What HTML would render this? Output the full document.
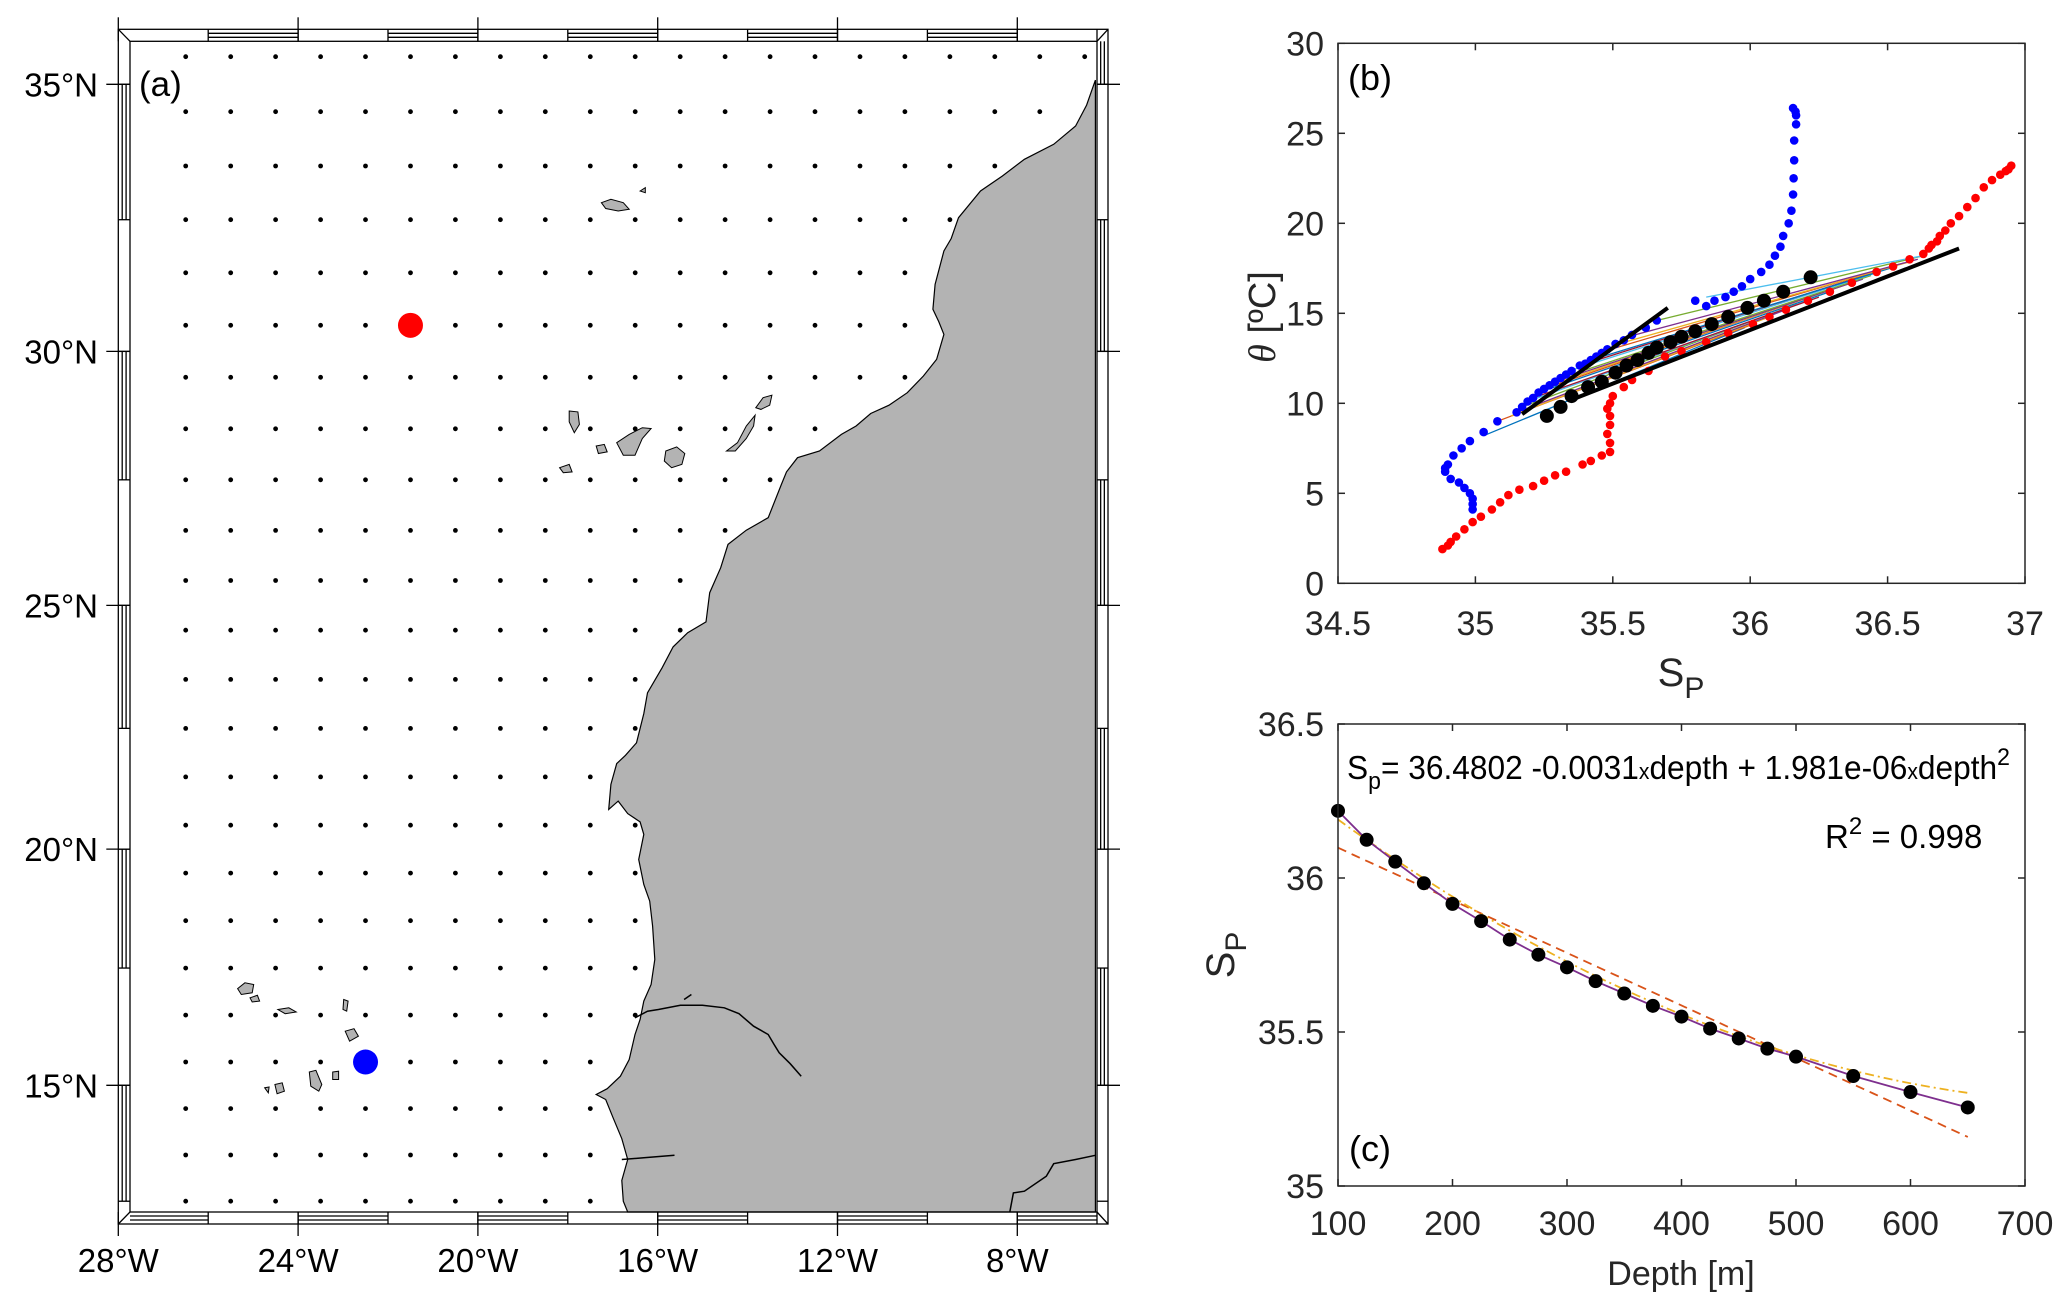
<!DOCTYPE html>
<html><head><meta charset="utf-8"><style>
html,body{margin:0;padding:0;background:#fff;}
svg{display:block;font-family:"Liberation Sans",Arial,sans-serif;}
</style></head><body>
<svg id="fig" xmlns="http://www.w3.org/2000/svg" width="2067" height="1308" viewBox="0 0 2067 1308">
<rect x="0" y="0" width="2067" height="1308" fill="#fff"/>
<g id="mapA"></g>
<g id="panelB"></g>
<g id="panelC"></g>
</svg>
<script>
// ---------- Panel (a) data ----------
const gridLons = [-26.5,-25.5,-24.5,-23.5,-22.5,-21.5,-20.5,-19.5,-18.5,-17.5,-16.5,-15.5,-14.5,-13.5,-12.5,-11.5,-10.5,-9.5,-8.5,-7.5,-6.5];
const gridLats = [35.5,34.5,33.5,32.5,31.5,30.5,29.5,28.5,27.5,26.5,25.5,24.5,23.5,22.5,21.5,20.5,19.5,18.5,17.5,16.5,15.5,14.5,13.5,12.5];
const stationLons = [-21.5,-22.5];
const stationLats = [30.5,15.5];
const stationColors = ['#ff0000','#0000ff'];
const lonTicks = [-28,-24,-20,-16,-12,-8];
const lonTickLabels = ['28°W','24°W','20°W','16°W','12°W','8°W'];
const latTicks = [35,30,25,20,15];
const latTickLabels = ['35°N','30°N','25°N','20°N','15°N'];

// ---------- Panel (b) data ----------
const blueS = [36.156,36.165,36.167,36.167,36.16,36.16,36.158,36.156,36.15,36.14,36.12,36.11,36.09,36.07,36.04,36.0,35.97,35.94,35.91,35.87,35.84,35.80,35.66,35.62,35.57,35.54,35.51,35.48,35.46,35.44,35.42,35.40,35.38,35.35,35.33,35.31,35.29,35.27,35.25,35.23,35.21,35.19,35.17,35.15,35.08,35.03,34.98,34.95,34.92,34.90,34.89,34.89,34.91,34.94,34.96,34.98,34.99,34.99,34.99];
const blueT = [26.4,26.2,26.0,25.5,24.6,23.5,22.5,21.6,20.7,20.0,19.3,18.7,18.2,17.7,17.3,16.9,16.5,16.2,15.9,15.7,15.4,15.7,14.6,14.2,13.8,13.5,13.3,13.0,12.8,12.6,12.4,12.2,12.1,11.8,11.6,11.4,11.2,11.0,10.8,10.6,10.3,10.1,9.8,9.5,9.0,8.4,7.9,7.5,7.1,6.6,6.4,6.2,5.8,5.6,5.3,5.0,4.7,4.4,4.1];
const redS = [36.95,36.94,36.93,36.91,36.88,36.85,36.82,36.79,36.76,36.73,36.71,36.69,36.68,36.66,36.65,36.63,36.58,36.52,36.46,36.37,36.29,36.21,36.13,36.07,36.01,35.92,35.84,35.75,35.69,35.63,35.57,35.54,35.50,35.49,35.48,35.49,35.49,35.48,35.49,35.49,35.46,35.42,35.39,35.33,35.29,35.25,35.21,35.16,35.12,35.09,35.06,35.02,34.99,34.96,34.93,34.91,34.90,34.88];
const redT = [23.2,23.0,22.9,22.7,22.4,22.0,21.4,20.9,20.4,20.0,19.6,19.3,19.0,18.8,18.6,18.3,18.0,17.6,17.3,16.7,16.2,15.7,15.2,14.8,14.4,13.9,13.4,12.9,12.6,11.8,11.3,10.9,10.4,10.0,9.7,9.3,8.8,8.3,7.8,7.3,7.1,6.8,6.6,6.2,6.0,5.7,5.4,5.2,4.9,4.5,4.1,3.7,3.4,3.0,2.6,2.3,2.1,1.9];
const meanS = [35.26,35.31,35.35,35.41,35.46,35.51,35.55,35.59,35.63,35.66,35.71,35.75,35.80,35.86,35.92,35.99,36.05,36.12,36.22];
const meanT = [9.3,9.8,10.4,10.9,11.2,11.7,12.1,12.4,12.8,13.1,13.4,13.7,14.0,14.4,14.8,15.3,15.7,16.2,17.0];
const mixBlueS = [35.03,35.08,35.13,35.15,35.17,35.19,35.21,35.23,35.25,35.27,35.29,35.31,35.34,35.38,35.42,35.47,35.52,35.58,35.66,35.84];
const mixBlueT = [8.2,9.0,9.3,9.5,9.8,10.1,10.3,10.6,10.8,11.0,11.2,11.4,11.8,12.1,12.4,12.9,13.3,13.8,14.6,15.9];
const mixRedS = [35.98,36.01,36.07,36.13,36.17,36.21,36.25,36.29,36.33,36.37,36.41,36.44,36.47,36.50,36.53,36.56,36.59,36.61,36.63,36.63];
const mixRedT = [14.2,14.4,14.8,15.2,15.5,15.7,15.9,16.2,16.5,16.7,16.9,17.1,17.3,17.5,17.6,17.8,17.9,18.0,18.2,18.2];
const fitLine1S = [35.17,35.70];
const fitLine1T = [9.4,15.3];
const fitLine2S = [35.35,36.76];
const fitLine2T = [10.2,18.6];
const bXTicks = [34.5,35,35.5,36,36.5,37];
const bXTickLabels = ['34.5','35','35.5','36','36.5','37'];
const bYTicks = [0,5,10,15,20,25,30];
const bYTickLabels = ['0','5','10','15','20','25','30'];

// ---------- Panel (c) data ----------
const depths = [100,125,150,175,200,225,250,275,300,325,350,375,400,425,450,475,500,550,600,650];
const salinity = [36.218,36.124,36.053,35.983,35.916,35.86,35.80,35.751,35.71,35.665,35.625,35.585,35.55,35.511,35.479,35.446,35.42,35.357,35.305,35.255];
const quadCoef = [36.4802,-0.0031,1.981e-6];
const linCoef = [36.269,-0.001707];
const cXTicks = [100,200,300,400,500,600,700];
const cXTickLabels = ['100','200','300','400','500','600','700'];
const cYTicks = [35,35.5,36,36.5];
const cYTickLabels = ['35','35.5','36','36.5'];

const NS='http://www.w3.org/2000/svg';
function mk(parent, tag, attrs, text){
  const e=document.createElementNS(NS,tag);
  for(const k in attrs) e.setAttribute(k,attrs[k]);
  if(text!==undefined) e.textContent=text;
  parent.appendChild(e); return e;
}

// ===== Panel A =====
const A=document.getElementById('mapA');
const OX0=118.3,OX1=1108,OY0=29.3,OY1=1224,IX0=130,IX1=1097,IY0=41.3,IY1=1212;
function merc(lat){return Math.log(Math.tan(Math.PI/4+lat*Math.PI/360));}
function mx(lon){return OX0+(lon+28)*44.95;}
function my(lat){return 84.3+(merc(35)-merc(lat))*2580;}
function ref(zx,zy){return [118.3+(zx-162)*0.7319, 84.3+(zy-100)*0.8335];}
function refPts(arr){return arr.map(p=>ref(p[0],p[1]));}
function ptsStr(arr){return arr.map(p=>p[0].toFixed(1)+','+p[1].toFixed(1)).join(' ');}

const coastRef=[[1497,95],[1485,125],[1470,150],[1440,172],[1400,190],[1370,210],[1340,228],[1310,260],[1300,285],[1290,300],[1278,340],[1275,370],[1283,385],[1290,400],[1280,430],[1262,450],[1240,470],[1215,485],[1190,495],[1170,510],[1150,520],[1120,540],[1090,548],[1075,565],[1068,580],[1050,620],[1020,635],[995,652],[985,680],[970,710],[965,745],[940,758],[920,775],[905,800],[895,815],[885,830],[880,855],[870,890],[855,905],[843,915],[835,940],[832,970],[845,960],[858,975],[875,985],[880,1000],[873,1030],[880,1060],[888,1080],[892,1110],[895,1150],[890,1180],[880,1200],[875,1222],[868,1240],[860,1270],[848,1290],[830,1305],[815,1312],[828,1318],[838,1340],[850,1365],[858,1390],[850,1415],[852,1440],[858,1453],[1497,1453]];
const coast=refPts(coastRef);
const land=mk(A,'polygon',{points:ptsStr(coast),fill:'#b3b3b3',stroke:'#000','stroke-width':1.2});



const islandsRef=[
 ['madeira',[[822,242],[835,238],[852,242],[860,250],[845,252],[828,249]]],
 ['porto-santo',[[875,228],[882,224],[882,230]]],
 ['la-palma',[[778,492],[790,493],[792,508],[785,518],[778,505]]],
 ['el-hierro',[[765,560],[778,556],[782,565],[770,566]]],
 ['la-gomera',[[815,534],[826,532],[830,541],[818,543]]],
 ['tenerife',[[843,530],[860,520],[878,512],[890,513],[878,525],[868,545],[852,545]]],
 ['gran-canaria',[[910,540],[925,535],[936,543],[932,556],[918,560],[908,552]]],
 ['fuerteventura',[[993,540],[1008,530],[1020,510],[1032,497],[1030,510],[1020,525],[1005,540]]],
 ['lanzarote',[[1033,488],[1043,476],[1055,473],[1052,485],[1040,490]]],
 ['santo-antao',[[325,1185],[335,1178],[347,1180],[345,1190],[330,1192]]],
 ['sao-vicente',[[342,1196],[352,1193],[355,1200],[345,1201]]],
 ['sao-nicolau',[[380,1210],[395,1208],[405,1213],[390,1215]]],
 ['sal',[[470,1198],[476,1200],[474,1212],[469,1210]]],
 ['boa-vista',[[472,1236],[484,1233],[490,1242],[478,1248]]],
 ['maio',[[455,1285],[463,1284],[463,1294],[455,1294]]],
 ['santiago',[[423,1285],[432,1283],[440,1300],[436,1308],[425,1302]]],
 ['fogo',[[376,1300],[386,1298],[389,1308],[379,1311]]],
 ['brava',[[362,1304],[368,1303],[367,1310]]]
];
islandsRef.forEach(it=>{
  const p=mk(A,'polygon',{points:ptsStr(refPts(it[1])),fill:'#b3b3b3',stroke:'#000','stroke-width':1});
  
  
});
const riversRef=[
 [[868,1220],[885,1212],[900,1210],[930,1205],[960,1205],[990,1208],[1010,1215],[1030,1230],[1050,1240],[1058,1252],[1065,1262],[1080,1275],[1095,1290]],
 [[850,1390],[880,1388],[922,1385]],
 [[1380,1453],[1385,1430],[1400,1428],[1430,1410],[1440,1395],[1470,1390],[1497,1385]],
 [[935,1198],[945,1192]]
];
riversRef.forEach((r,i)=>{
  const l=mk(A,'polyline',{points:ptsStr(refPts(r)),fill:'none',stroke:'#000','stroke-width':1.5});
  
  
});

function inPoly(x,y,poly){
  let c=false;
  for(let i=0,j=poly.length-1;i<poly.length;j=i++){
    const xi=poly[i][0],yi=poly[i][1],xj=poly[j][0],yj=poly[j][1];
    if(((yi>y)!==(yj>y)) && (x < (xj-xi)*(y-yi)/(yj-yi)+xi)) c=!c;
  }
  return c;
}
const dotsG=mk(A,'g',{});


gridLats.forEach(la=>{gridLons.forEach(lo=>{
  const x=mx(lo),y=my(la);
  if(inPoly(x,y,coast)) return;
  const d=mk(dotsG,'circle',{cx:x.toFixed(1),cy:y.toFixed(1),r:2.4,fill:'#000'});
  
  
});});
stationLons.forEach((lo,i)=>{
  const c=mk(A,'circle',{cx:mx(lo),cy:my(stationLats[i]),r:12.5,fill:stationColors[i]});
  
  
});

// fancy frame
const frame=mk(A,'g',{fill:'none',stroke:'#000','stroke-width':1.3});


mk(frame,'rect',{x:OX0,y:OY0,width:OX1-OX0,height:OY1-OY0,fill:'none'});
mk(frame,'rect',{x:IX0,y:IY0,width:IX1-IX0,height:IY1-IY0,fill:'none'});
mk(frame,'line',{x1:OX0,y1:OY0,x2:IX0,y2:IY0});
mk(frame,'line',{x1:OX1,y1:OY0,x2:IX1,y2:IY0});
mk(frame,'line',{x1:OX0,y1:OY1,x2:IX0,y2:IY1});
mk(frame,'line',{x1:OX1,y1:OY1,x2:IX1,y2:IY1});
// lon segments every 2 deg
for(let lo=-28,k=0;lo<-6;lo+=2,k++){
  const x0=Math.max(mx(lo),IX0),x1=Math.min(mx(lo+2),IX1);
  [[OY0,IY0],[IY1,OY1]].forEach((b,s)=>{
    mk(frame,'line',{x1:x1,y1:b[0],x2:x1,y2:b[1]});
    if((k+s)%2===1){
      const a=b[0]+(b[1]-b[0])/3,c=b[0]+2*(b[1]-b[0])/3;
      mk(frame,'line',{x1:x0,y1:a,x2:x1,y2:a});
      mk(frame,'line',{x1:x0,y1:c,x2:x1,y2:c});
    }
  });
}
for(let la=12.5,k=0;la<36;la+=2.5,k++){
  const y0=Math.min(my(la-0.5),IY1),y1=Math.max(my(la+2),IY0);
  const ya=my(la);
  [[OX0,IX0],[IX1,OX1]].forEach((b,s)=>{
    mk(frame,'line',{x1:b[0],y1:ya,x2:b[1],y2:ya});
  });
}
for(let la=12.5,k=0;la<36;la+=2.5,k++){
  const y0=my(la), y1=Math.max(my(Math.min(la+2.5,36)),IY0);
  [[OX0,IX0],[IX1,OX1]].forEach((b,s)=>{
    if((k+s)%2===0){
      const a=b[0]+(b[1]-b[0])/3,c=b[0]+2*(b[1]-b[0])/3;
      mk(frame,'line',{x1:a,y1:y0,x2:a,y2:y1});
      mk(frame,'line',{x1:c,y1:y0,x2:c,y2:y1});
    }
  });
}
// ticks + labels
lonTicks.forEach((lo,i)=>{
  const x=mx(lo);
  mk(frame,'line',{x1:x,y1:OY0-12,x2:x,y2:IY0});
  mk(frame,'line',{x1:x,y1:IY1,x2:x,y2:OY1+12});
  const t=mk(A,'text',{x:x,y:1272,'font-size':33,'text-anchor':'middle',fill:'#000'},lonTickLabels[i]);
  
  
});
latTicks.forEach((la,i)=>{
  const y=my(la);
  mk(frame,'line',{x1:OX0-12,y1:y,x2:IX0,y2:y});
  mk(frame,'line',{x1:IX1,y1:y,x2:OX1+12,y2:y});
  const t=mk(A,'text',{x:98,y:y+12,'font-size':33,'text-anchor':'end',fill:'#000'},latTickLabels[i]);
  
  
});
const la=mk(A,'text',{x:139,y:96,'font-size':35,fill:'#000'},'(a)');



// ===== Panel B =====
const B=document.getElementById('panelB');
const BX0=1338,BX1=2025,BY0=43.3,BY1=583.3;
function bx(s){return BX0+(s-34.5)/2.5*(BX1-BX0);}
function by(t){return BY1-t/30*(BY1-BY0);}
const matlabColors=['#0072BD','#D95319','#EDB120','#7E2F8E','#77AC30','#4DBEEE','#A2142F'];
const mixG=mk(B,'g',{});


mixBlueS.forEach((s,i)=>{
  const l=mk(mixG,'line',{x1:bx(s),y1:by(mixBlueT[i]),x2:bx(mixRedS[i]),y2:by(mixRedT[i]),stroke:matlabColors[i%7],'stroke-width':1.3});
  
  
});
const blueG=mk(B,'g',{fill:'#0000ff'});


blueS.forEach((s,i)=>{
  const c=mk(blueG,'circle',{cx:bx(s),cy:by(blueT[i]),r:4.3});
  
  
});
const redG=mk(B,'g',{fill:'#ff0000'});


redS.forEach((s,i)=>{
  const c=mk(redG,'circle',{cx:bx(s),cy:by(redT[i]),r:4.3});
  
  
});
const f1=mk(B,'line',{x1:bx(fitLine1S[0]),y1:by(fitLine1T[0]),x2:bx(fitLine1S[1]),y2:by(fitLine1T[1]),stroke:'#000','stroke-width':4});


const f2=mk(B,'line',{x1:bx(fitLine2S[0]),y1:by(fitLine2T[0]),x2:bx(fitLine2S[1]),y2:by(fitLine2T[1]),stroke:'#000','stroke-width':4});


const meanG=mk(B,'g',{fill:'#000'});


meanS.forEach((s,i)=>{
  const c=mk(meanG,'circle',{cx:bx(s),cy:by(meanT[i]),r:7});
  
  
});
function axesBox(G,x0,x1,y0,y1,xt,xf,xl,yt,yf,yl,xlabY,name){
  const box=mk(G,'rect',{x:x0,y:y0,width:x1-x0,height:y1-y0,fill:'none',stroke:'#262626','stroke-width':1.5});
  
  
  xt.forEach((v,i)=>{
    const x=xf(v);
    mk(G,'line',{x1:x,y1:y1,x2:x,y2:y1-7,stroke:'#262626','stroke-width':1.5});
    mk(G,'line',{x1:x,y1:y0,x2:x,y2:y0+7,stroke:'#262626','stroke-width':1.5});
    const t=mk(G,'text',{x:x,y:xlabY,'font-size':34,'text-anchor':'middle',fill:'#262626'},xl[i]);
    
    
  });
  yt.forEach((v,i)=>{
    const y=yf(v);
    mk(G,'line',{x1:x0,y1:y,x2:x0+7,y2:y,stroke:'#262626','stroke-width':1.5});
    mk(G,'line',{x1:x1,y1:y,x2:x1-7,y2:y,stroke:'#262626','stroke-width':1.5});
    const t=mk(G,'text',{x:x0-14,y:y+12,'font-size':34,'text-anchor':'end',fill:'#262626'},yl[i]);
    
    
  });
}
axesBox(B,BX0,BX1,BY0,BY1,bXTicks,bx,bXTickLabels,bYTicks,by,bYTickLabels,635,'b');
const bl=mk(B,'text',{x:1348,y:90,'font-size':36,fill:'#000'},'(b)');


const bxl=mk(B,'text',{x:1681,y:686,'font-size':40,'text-anchor':'middle',fill:'#262626'});


mk(bxl,'tspan',{},'S');
mk(bxl,'tspan',{dy:12,'font-size':30},'P');
const byl=mk(B,'text',{x:0,y:0,'font-size':38,'text-anchor':'middle',fill:'#262626',transform:'translate(1275,317) rotate(-90)'});


mk(byl,'tspan',{'font-style':'italic','font-family':'Liberation Serif, serif'},'θ');
mk(byl,'tspan',{},' [ºC]');

// ===== Panel C =====
const C=document.getElementById('panelC');
const CX0=1338,CX1=2025,CY0=724,CY1=1186;
function cx(d){return CX0+(d-100)/600*(CX1-CX0);}
function cy(s){return CY1-(s-35)/1.5*(CY1-CY0);}
const dMin=depths[0],dMax=depths[depths.length-1];
let linPts=[],quadPts=[];
for(let k=0;k<=40;k++){
  const d=dMin+(dMax-dMin)*k/40;
  linPts.push([cx(d),cy(linCoef[0]+linCoef[1]*d)]);
  quadPts.push([cx(d),cy(quadCoef[0]+quadCoef[1]*d+quadCoef[2]*d*d)]);
}
const lin=mk(C,'polyline',{points:ptsStr(linPts),fill:'none',stroke:'#D95319','stroke-width':1.8,'stroke-dasharray':'9,6'});


const quad=mk(C,'polyline',{points:ptsStr(quadPts),fill:'none',stroke:'#EDB120','stroke-width':1.8,'stroke-dasharray':'9,4,2,4'});


const dataLine=mk(C,'polyline',{points:ptsStr(depths.map((d,i)=>[cx(d),cy(salinity[i])])),fill:'none',stroke:'#7E2F8E','stroke-width':1.8});


const cdots=mk(C,'g',{fill:'#000'});


depths.forEach((d,i)=>{
  const c=mk(cdots,'circle',{cx:cx(d),cy:cy(salinity[i]),r:7});
  
  
});
axesBox(C,CX0,CX1,CY0,CY1,cXTicks,cx,cXTickLabels,cYTicks,cy,cYTickLabels,1235,'c');
const eq=mk(C,'text',{x:1347,y:779,'font-size':33,fill:'#000',textLength:663,lengthAdjust:'spacingAndGlyphs'});


mk(eq,'tspan',{},'S');
mk(eq,'tspan',{dy:10,'font-size':24},'p');
mk(eq,'tspan',{dy:-10},'= 36.4802 -0.0031');
mk(eq,'tspan',{'font-size':22},'x');
mk(eq,'tspan',{},'depth + 1.981e-06');
mk(eq,'tspan',{'font-size':22},'x');
mk(eq,'tspan',{},'depth');
mk(eq,'tspan',{dy:-14,'font-size':24},'2');
const r2=mk(C,'text',{x:1825,y:848,'font-size':33,fill:'#000'});


mk(r2,'tspan',{},'R');
mk(r2,'tspan',{dy:-14,'font-size':24},'2');
mk(r2,'tspan',{dy:14},' = 0.998');
const cl=mk(C,'text',{x:1349,y:1161,'font-size':36,fill:'#000'},'(c)');


const cxl=mk(C,'text',{x:1681,y:1285,'font-size':34,'text-anchor':'middle',fill:'#262626'},'Depth [m]');


const cyl=mk(C,'text',{x:0,y:0,'font-size':40,'text-anchor':'middle',fill:'#262626',transform:'translate(1234,955) rotate(-90)'});


mk(cyl,'tspan',{},'S');
mk(cyl,'tspan',{dy:12,'font-size':30},'P');
</script>
</body></html>
